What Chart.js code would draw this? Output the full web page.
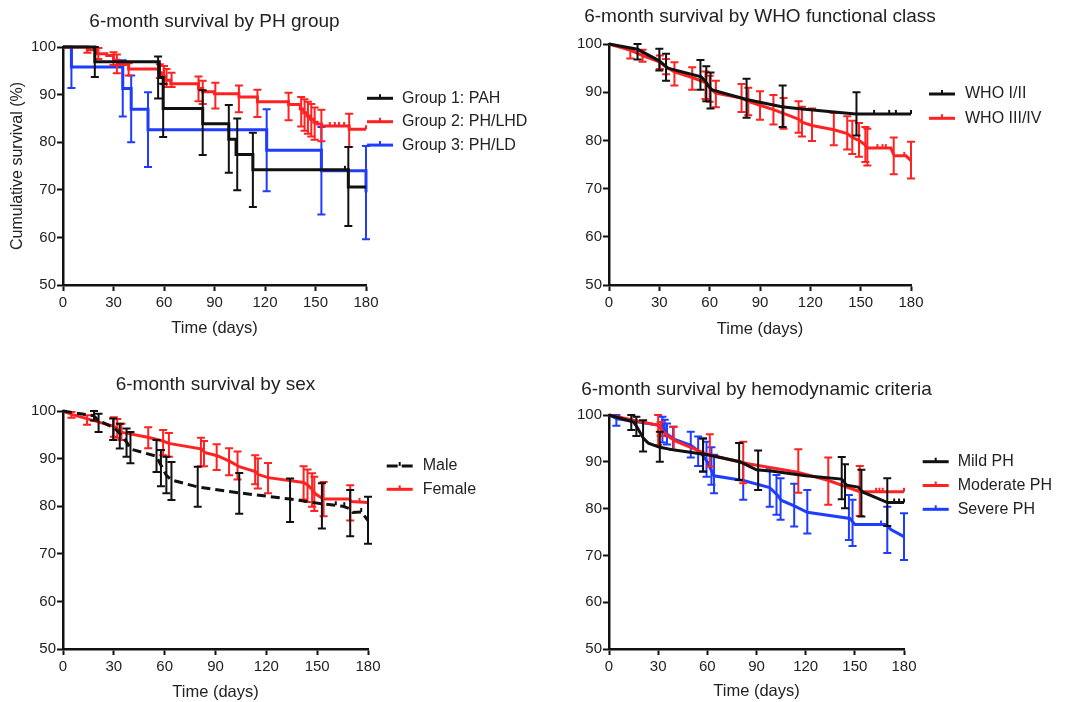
<!DOCTYPE html>
<html lang="en">
<head>
<meta charset="UTF-8">
<title>6-month survival</title>
<style>
  body { margin: 0; background: #fff; width: 1071px; height: 702px; overflow: hidden; position: relative; }
  canvas { position: absolute; }
</style>
</head>
<body>

<canvas id="c1" width="535" height="351" style="left:0;top:0"></canvas>
<canvas id="c2" width="536" height="351" style="left:535px;top:0"></canvas>
<canvas id="c3" width="535" height="362" style="left:0;top:340px"></canvas>
<canvas id="c4" width="536" height="362" style="left:535px;top:340px"></canvas>

<script src="https://cdn.jsdelivr.net/npm/chart.js"></script>
<script>
// curves are [day, survival %], error bars [day, upper, lower], censors [day, survival %]

// PH group
const pahCurve = [[0,100],[18.9,96.9],[57.2,93.6],[59.5,87.1],[83,83.9],[98.5,80.6],[102.8,77.4],[112.8,74.2],[169.5,70.6],[180,70.6]];
const pahErr = [[18.9,100,93.7],[56.5,98,89.2],[59.5,92.3,81.1],[83,90.9,77.3],[98.5,87.8,73.6],[103.5,85,69.9],[112.8,82,66.4],[169.5,79,62.4]];
const pahCensor = [[167.5,74.2]];
const lhdCurve = [[0,100],[14.5,99.4],[20.5,98.6],[26,98.2],[30,97.2],[33,96.3],[39,95.4],[57,94.6],[59,93.8],[61,93],[64,92.3],[80.5,91.3],[83,90.6],[90,90.2],[104.5,89.5],[115.5,88.5],[134,87.9],[141,87],[143,86.2],[145,85.5],[147,84.8],[149,84.2],[151,83.8],[153.5,83.4],[170,82.7],[180,82.7]];
const lhdErr = [[14.5,100,98.8],[21,99.8,97.5],[30,98.9,96.2],[32,98.4,94.5],[39,96.6,94],[57.5,96.4,93.5],[60,96,92.2],[61.5,95.4,91.6],[64.5,94.6,91.6],[80.5,93.8,88.6],[83,92.9,88],[90.5,92.5,87.1],[104.5,91.9,86.3],[115.5,91,85.3],[134,90.4,84.6],[141.5,89.5,83.3],[143.5,89,82.4],[145.5,88.5,81.8],[147.5,88,81.2],[149.5,87.3,80.5],[153.5,86.8,80.2],[170,86,79]];
const lhdCensor = [[158.5,83.4],[161.5,83.4],[164,83.4],[167,83.4],[180,82.7]];
const ldCurve = [[0,100],[5,95.8],[35.5,91.3],[40.5,86.9],[50.5,82.6],[121,78.3],[153.5,74],[180,69.5]];
const ldErr = [[5,100,91.4],[35.5,97.2,85.4],[40.5,94,80],[50.5,90.5,74.8],[121,86.9,69.7],[153.5,83.2,64.8],[180,79.2,59.6]];

// WHO functional class
const whoLowCurve = [[0,100],[17,98.9],[30,96.5],[35,95],[55,93.2],[58,92],[61,90.5],[82,88.5],[103,87],[115,86.5],[147,85.5],[180,85.5]];
const whoLowErr = [[17,100,96.8],[30,99,94.5],[34,98,92.4],[54.5,96.7,90.5],[58,95.4,88.1],[60.5,94.1,86.6],[82,92.8,84.7],[103.5,91.4,82.8],[147.5,90,81]];
const whoLowCensor = [[158,85.5],[167,85.5],[171,85.5],[180,85.5]];
const whoHighCurve = [[0,100],[13,98.7],[20,97.6],[30,96.3],[34,95.3],[39,94.2],[50,93],[57.5,92],[60,91],[63.5,89.8],[79,88.8],[83,88.1],[90,87.3],[98,86.4],[104,85.6],[113,84.4],[115,83.8],[121,83.1],[134,82.2],[142,81.4],[145,80.6],[149,80],[152.5,79.1],[154,78.4],[168,78.4],[170,76.8],[177,76.8],[180,75.8]];
const whoHighErr = [[12.7,98.8,97],[20,98.8,96.3],[30.3,97.6,94.8],[34,96.9,93.7],[39,96.2,91.4],[49.6,95.2,90.5],[57.5,94.3,88.6],[60,93.4,88],[63.7,92.4,86.9],[79,91.7,85.9],[83,90.9,85.2],[90,90.2,84.3],[98,89.4,83.3],[104,88.8,82.4],[113,88.1,81.6],[115,87,80.8],[121,86.6,79.9],[134,85.7,79],[142,85,78.1],[145,84.1,77.2],[149,83.6,76.6],[152.8,82.8,75.5],[154,82.4,74.8],[169.7,80.6,73],[180,79.7,72.1]];
const whoHighCensor = [[160,78.4],[163,78.4],[165,78.4],[176,76.8]];

// sex
const maleCurve = [[0,100],[18,99],[21,98],[30,96.5],[33,95.5],[37.5,93.5],[40,92],[55,90.5],[58,88.5],[61,86.5],[64,85.5],[80,84],[104,82.8],[134,81.5],[153,80.5],[165,80],[169,79.5],[171,78.7],[176,78.8],[180,77]];
const maleErr = [[18.3,100,98],[21,99.4,95.6],[29.6,98.4,93.9],[33.5,97.3,92.1],[37.5,96.3,90.4],[39.8,95.6,89],[55.2,93.9,87.2],[57.8,91.8,84.2],[61,90.4,82.7],[64,89.3,81.3],[79.5,88.3,79.9],[104,87,78.4],[134,85.8,76.7],[152.8,84.8,75.3],[169.5,83.4,73.7],[180,82,72.1]];
const maleCensor = [[161,80.2],[166,80],[176,78.8]];
const femaleCurve = [[0,100],[5,99.3],[14,98.4],[30,96.8],[32,96.2],[35,95.5],[50,94.5],[59,93.7],[62.5,93.2],[82,92],[83.5,91.3],[91,90.6],[98.5,89.4],[104,88.3],[113.5,87.3],[115,86.7],[121,86],[142,85],[144.5,84.4],[147,83.5],[149,82.6],[153.5,81.5],[169,81.5],[170,81],[180,80.8]];
const femaleErr = [[5,99.8,98.6],[14.2,99.1,97.1],[30,98.7,94.6],[32,98.3,94.4],[34.5,97.3,93.9],[50.3,96.6,92.2],[59.1,96,90.7],[62.5,95.4,90.4],[81.4,94.4,88.4],[83.2,93.7,88.4],[90.7,93,87.6],[98,92.2,86.5],[103,91.5,85.6],[113.4,90.7,84.6],[115,90,83.7],[121,89.1,82.7],[142,88.4,81.4],[144.3,87.7,80.9],[147,86.9,79.9],[148.3,86.2,79],[153.8,85.1,77.9],[169.5,84.4,77]];
const femaleCensor = [[175,80.9],[180,80.8]];

// hemodynamic criteria
const mildCurve = [[0,100],[15,98.5],[17,97.5],[21,95],[24,94],[31,93.1],[40,92.5],[60,91.5],[80,90],[90,88.3],[100,88],[120,87],[142,86.3],[145,85],[152,84.6],[155,83.5],[170,81.3],[180,81.3]];
const mildErr = [[13.6,100,96.8],[16.7,99.6,95.5],[20.8,98.9,92.2],[31,96.4,90],[57.4,95,87.9],[79.4,94,86.1],[91,92.4,84],[142,91,82],[144,89.5,80.1],[154,88.3,78.3],[169.8,86.5,76.3]];
const mildCensor = [[174,81.3],[177,81.3],[180,81.3]];
const modCurve = [[0,100],[30,97.8],[33,96.5],[36,95.5],[40,94.5],[60,91.6],[83,89.7],[115,87.8],[134,86],[153,83.6],[180,83.6]];
const modErr = [[30,100,93.6],[31.5,98.5,95.5],[39.5,97.5,92.5],[61.5,95.9,89],[81.9,94.3,85.4],[115.5,92.7,83.4],[133.8,90.9,80.8],[153,89.1,78.4]];
const modCensor = [[163,83.6],[165,83.6],[167,83.6],[180,83.6]];
const sevCurve = [[0,100],[5,99.2],[33,97.7],[35,96],[40,94.8],[50,93.5],[55,92.2],[58,91],[60,90],[62,88.5],[64,87],[82,86],[98,84.5],[103,82.8],[105,81.8],[113,80.6],[121,79.2],[147,77.9],[150,76.6],[169,76.6],[172,75.5],[180,74]];
const sevErr = [[4.5,100,97.7],[32.6,99.6,94.1],[34,99,95.5],[35.4,98.2,93.7],[39.1,97.5,92.5],[49.9,96.4,90.9],[54.4,95.4,89.1],[57.4,95,88],[59.5,94.3,86.8],[62.5,93.1,85.1],[64.1,91.5,83.3],[81.9,89.8,81.9],[98.1,88.6,80.4],[102.2,87.2,78.7],[104.7,86.5,77.6],[113,85.3,76.2],[121,84,74.7],[146.4,82.9,73.3],[148.6,81.9,72],[169.8,80.4,70.5],[180,79,69]];
const sevCensor = [[166,76.6]];

const dayTicks = [0, 30, 60, 90, 120, 150, 180];
const survTicks = [50, 60, 70, 80, 90, 100];

const BLACK = '#111111', RED = '#ff2222', BLUE = '#1f3dff';
const fam = '"Liberation Sans", Arial, Helvetica, sans-serif';
Chart.defaults.font.family = fam;
Chart.defaults.color = '#222';

const xy = arr => arr.map(p => ({x: p[0], y: p[1]}));

// error bars, panel title and legend
const panelDecor = {
    id: 'panelDecor',
    afterDatasetDraw(chart, args) {
        const ds = chart.data.datasets[args.index];
        if (!ds.errorBars) return;
        const xs = chart.scales.x, ys = chart.scales.y, ctx = chart.ctx;
        ctx.save();
        ctx.strokeStyle = ds.borderColor;
        ctx.lineWidth = 2;
        ds.errorBars.forEach(([d, hi, lo]) => {
            const px = xs.getPixelForValue(d);
            const p1 = ys.getPixelForValue(hi), p2 = ys.getPixelForValue(lo);
            ctx.beginPath();
            ctx.moveTo(px, p1); ctx.lineTo(px, p2);
            ctx.moveTo(px - 4, p1); ctx.lineTo(px + 4, p1);
            ctx.moveTo(px - 4, p2); ctx.lineTo(px + 4, p2);
            ctx.stroke();
        });
        ctx.restore();
    },
    afterDraw(chart, args, opts) {
        const ctx = chart.ctx, area = chart.chartArea;
        ctx.save();
        ctx.fillStyle = '#222';
        ctx.textBaseline = 'middle';
        ctx.textAlign = 'center';
        ctx.font = '19px ' + fam;
        ctx.fillText(opts.title, (area.left + area.right) / 2, opts.titleY);

        ctx.font = '16px ' + fam;
        ctx.textAlign = 'left';
        let i = 0;
        chart.data.datasets.forEach(ds => {
            if (!ds.legend) return;
            const y = opts.legendY + i * opts.legendGap;
            const x = opts.legendX;
            ctx.strokeStyle = ds.borderColor;
            ctx.lineWidth = 3;
            ctx.setLineDash(ds.borderDash ? [11, 4] : []);
            ctx.beginPath(); ctx.moveTo(x, y); ctx.lineTo(x + 26, y); ctx.stroke();
            ctx.setLineDash([]);
            ctx.lineWidth = 2;
            ctx.beginPath(); ctx.moveTo(x + 13, y); ctx.lineTo(x + 13, y - 4); ctx.stroke();
            ctx.fillText(ds.label, x + opts.textGap, y);
            i++;
        });
        ctx.restore();
    }
};

function curveSet(label, curve, err, color, stepped, dash) {
    return {
        label: label, data: xy(curve), errorBars: err, legend: true,
        borderColor: color, borderWidth: 3, borderDash: dash, stepped: stepped,
        pointRadius: 0, fill: false, clip: false
    };
}

function censorSet(censor, color) {
    return {
        data: xy(censor), showLine: false, borderColor: color,
        pointStyle: 'dash', pointRotation: -90, pointRadius: 4,
        pointBorderWidth: 2, pointBorderColor: color, clip: false
    };
}

function makePanel(id, datasets, g) {
    const yTitle = g.yTitle ? { display: true, text: g.yTitle, color: '#222', font: { size: 16 }, padding: 0 } : { display: false };
    new Chart(document.getElementById(id), {
        type: 'line',
        data: { datasets: datasets },
        options: {
            responsive: false,
            animation: false,
            devicePixelRatio: 1,
            layout: { padding: g.pad },
            plugins: {
                legend: { display: false },
                title: { display: false },
                tooltip: { enabled: false },
                panelDecor: g.decor
            },
            scales: {
                x: {
                    type: 'linear', min: 0, max: 180,
                    afterBuildTicks: s => { s.ticks = dayTicks.map(v => ({ value: v })); },
                    ticks: { color: '#222', font: { size: 15 }, maxRotation: 0, padding: 3 },
                    grid: { drawOnChartArea: false, tickLength: 6, tickWidth: 2, tickColor: BLACK },
                    border: { color: BLACK, width: 2.5 },
                    title: { display: true, text: 'Time (days)', color: '#222', font: { size: 16.5, lineHeight: 1 }, padding: 0 },
                    afterFit: s => { s.height = g.hx; }
                },
                y: {
                    type: 'linear', min: 50, max: 100,
                    afterBuildTicks: s => { s.ticks = survTicks.map(v => ({ value: v })); },
                    ticks: { color: '#222', font: { size: 15 }, padding: 1 },
                    grid: { drawOnChartArea: false, tickLength: 6, tickWidth: 2, tickColor: BLACK },
                    border: { color: BLACK, width: 2.5 },
                    title: yTitle,
                    afterFit: s => { s.width = g.wy; }
                }
            }
        },
        plugins: [panelDecor]
    });
}

makePanel('c1', [
    curveSet('Group 1: PAH', pahCurve, pahErr, BLACK, true),
    censorSet(pahCensor, BLACK),
    curveSet('Group 2: PH/LHD', lhdCurve, lhdErr, RED, true),
    censorSet(lhdCensor, RED),
    curveSet('Group 3: PH/LD', ldCurve, ldErr, BLUE, true)
], {
    pad: { left: 8, right: 169, top: 47, bottom: 14.75 }, wy: 55, hx: 51.25,
    yTitle: 'Cumulative survival (%)',
    decor: { title: '6-month survival by PH group', titleY: 22, legendX: 367, legendY: 98.3, legendGap: 23.4, textGap: 35 }
});

makePanel('c2', [
    curveSet('WHO I/II', whoLowCurve, whoLowErr, BLACK, false),
    censorSet(whoLowCensor, BLACK),
    curveSet('WHO III/IV', whoHighCurve, whoHighErr, RED, false),
    censorSet(whoHighCensor, RED)
], {
    pad: { left: 24, right: 160, top: 44, bottom: 13.75 }, wy: 50, hx: 52.25,
    decor: { title: '6-month survival by WHO functional class', titleY: 17, legendX: 394, legendY: 94, legendGap: 24.3, textGap: 36 }
});

makePanel('c3', [
    curveSet('Male', maleCurve, maleErr, BLACK, false, [9, 5]),
    censorSet(maleCensor, BLACK),
    curveSet('Female', femaleCurve, femaleErr, RED, false),
    censorSet(femaleCensor, RED)
], {
    pad: { left: 13, right: 167, top: 71, bottom: 1.05 }, wy: 50, hx: 51.95,
    decor: { title: '6-month survival by sex', titleY: 45, legendX: 386.7, legendY: 126, legendGap: 23.3, textGap: 36 }
});

makePanel('c4', [
    curveSet('Mild PH', mildCurve, mildErr, BLACK, false),
    censorSet(mildCensor, BLACK),
    curveSet('Moderate PH', modCurve, modErr, RED, false),
    censorSet(modCensor, RED),
    curveSet('Severe PH', sevCurve, sevErr, BLUE, false),
    censorSet(sevCensor, BLUE)
], {
    pad: { left: 24, right: 167, top: 75, bottom: 2.05 }, wy: 50, hx: 50.95,
    decor: { title: '6-month survival by hemodynamic criteria', titleY: 50, legendX: 387.7, legendY: 121.7, legendGap: 23.8, textGap: 35 }
});
</script>

</body>
</html>
